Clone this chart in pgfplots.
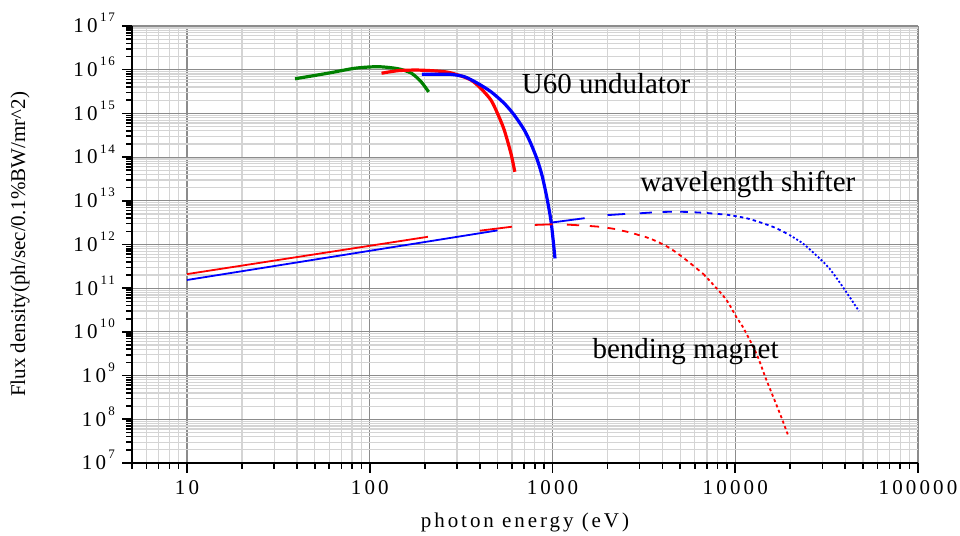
\documentclass[border=0pt]{standalone}
\usepackage{fontspec}
\setmainfont{Liberation Serif}
\newfontfamily\spc[LetterSpace=15]{Liberation Serif}
\newfontfamily\spcx[LetterSpace=14]{Liberation Serif}
\usepackage{pgfplots}
\pgfplotsset{compat=1.18}

\newcommand{\ylab}[1]{10\kern1.2pt\raisebox{0.52em}[0pt][0pt]{\fontsize{6.5}{7}\selectfont #1}}

\begin{document}
\begin{tikzpicture}
\begin{axis}[
  scale only axis, width=393pt, height=218.5pt,
  xmode=log, ymode=log,
  xmin=5, xmax=100000, ymin=1e7, ymax=1e17,
  axis x line=bottom, axis y line=left,
  axis line style={-, line width=0.9pt},
  tick align=outside,
  major tick length=5pt, minor tick length=3pt,
  every tick/.style={black, line width=0.8pt},
  xtick={10,100,1000,10000,100000},
  xticklabels={10,100,1000,10000,100000},
  minor xtick={5,6,7,8,9,20,30,40,50,60,70,80,90,200,300,400,500,600,700,800,900,
    2000,3000,4000,5000,6000,7000,8000,9000,20000,30000,40000,50000,60000,70000,80000,90000},
  ytick={1e7,1e8,1e9,1e10,1e11,1e12,1e13,1e14,1e15,1e16,1e17},
  yticklabels={\ylab{7},\ylab{8},\ylab{9},\ylab{10},\ylab{11},\ylab{12},\ylab{13},\ylab{14},\ylab{15},\ylab{16},\ylab{17}},
  minor ytick={2e7,3e7,4e7,5e7,6e7,7e7,8e7,9e7,
    2e8,3e8,4e8,5e8,6e8,7e8,8e8,9e8,
    2e9,3e9,4e9,5e9,6e9,7e9,8e9,9e9,
    2e10,3e10,4e10,5e10,6e10,7e10,8e10,9e10,
    2e11,3e11,4e11,5e11,6e11,7e11,8e11,9e11,
    2e12,3e12,4e12,5e12,6e12,7e12,8e12,9e12,
    2e13,3e13,4e13,5e13,6e13,7e13,8e13,9e13,
    2e14,3e14,4e14,5e14,6e14,7e14,8e14,9e14,
    2e15,3e15,4e15,5e15,6e15,7e15,8e15,9e15,
    2e16,3e16,4e16,5e16,6e16,7e16,8e16,9e16},
  ticklabel style={font=\spc\fontsize{10.5}{12}\selectfont},
  grid=both,
  major grid style={black!45, line width=0.55pt},
  minor grid style={black!17, line width=0.6pt},
  unbounded coords=jump,
]
% undulator harmonics
\addplot[green!50!black, line width=1.6pt, smooth, tension=0.45] coordinates {
 (39,6.2e15) (59,8.3e15) (83,1.08e16) (111,1.17e16) (143,1.05e16)
 (169,8.3e15) (191,5.3e15) (210,3.1e15)};
\addplot[red, line width=1.6pt, smooth, tension=0.45] coordinates {
 (116,8.3e15) (143,9.5e15) (184,9.8e15) (257,9.0e15) (303,7.6e15) (358,5.8e15)
 (405,3.75e15) (460,2.03e15) (500,1.0e15) (544,4.2e14) (592,1.22e14) (622,4.6e13)};
\addplot[blue, line width=1.6pt, smooth, tension=0.45] coordinates {
 (193,7.85e15) (240,7.9e15) (279,7.8e15) (330,6.9e15) (389,4.9e15) (460,3.14e15)
 (544,1.7e15) (617,9.2e14) (700,4.2e14) (760,2.07e14) (826,8.6e13) (880,3.56e13)
 (937,1.04e13) (985,3.05e12) (1032,4.8e11)};

% bending magnet
\addplot[red, line width=0.9pt] coordinates {
 (10,2.1e11) (208,1.5e12) (300,nan)
 (400,2.07e12) (600,2.55e12) (700,nan)
 (800,2.8e12) (1000,2.9e12) (1100,nan)
 (1200,2.85e12) (1400,2.75e12) (1500,nan)
 (1600,2.65e12) (1800,2.55e12) (1900,nan)
 (2000,2.4e12) (2200,2.26e12) (2300,nan)
 (2400,2.07e12) (2600,1.93e12) (2700,nan)
 (2800,1.77e12) (3000,1.62e12)};
\addplot[red, line width=0.9pt, smooth, dash pattern=on 2pt off 1.8pt] coordinates {
 (3200,1.5e12) (3600,1.25e12) (4400,8.2e11) (5400,4.4e11) (6700,2.1e11)};
\addplot[red, line width=0.9pt, smooth, dash pattern=on 1.5pt off 1.4pt] coordinates {
 (6700,2.1e11) (7900,1.0e11) (9000,5.2e10) (10200,2.1e10) (11000,1.3e10)
 (13050,3.2e9) (14800,8e8) (17500,1.4e8) (19500,4.2e7)};

% wavelength shifter
\addplot[blue, line width=0.9pt] coordinates {
 (10,1.54e11) (500,2.1e12) (700,nan)
 (1000,3.2e12) (1500,4.0e12) (1700,nan)
 (2000,4.7e12) (2500,5.0e12) (2700,nan)
 (3000,5.18e12) (3500,5.4e12) (3700,nan)
 (4000,5.55e12) (4500,5.62e12) (4700,nan)
 (5000,5.6e12) (5500,5.56e12) (5700,nan)
 (6000,5.45e12) (6500,5.35e12) (6700,nan)
 (7000,5.25e12) (7500,5.12e12) (7700,nan)
 (8000,5.0e12) (8500,4.9e12)};
\addplot[blue, line width=0.9pt, smooth, dash pattern=on 1.7pt off 1.6pt] coordinates {
 (9000,4.8e12) (11500,4.0e12) (14200,3.05e12) (16800,2.35e12) (19800,1.65e12)};
\addplot[blue, line width=0.9pt, smooth, dash pattern=on 1pt off 1pt] coordinates {
 (19800,1.65e12) (23400,1.06e12) (27700,5.7e11) (32700,2.85e11) (38700,1.08e11) (47500,3.0e10)};

\node[anchor=base west, inner sep=0, font=\fontsize{14.5}{16}\selectfont] at (axis cs:676,2.88e15) {U60 undulator};
\node[anchor=base west, inner sep=0, font=\fontsize{14.5}{16}\selectfont] at (axis cs:3006,1.67e13) {wavelength shifter};
\node[anchor=base west, inner sep=0, font=\fontsize{14.5}{16}\selectfont] at (axis cs:1648,2.49e9) {bending magnet};

\coordinate (ll) at (rel axis cs:0,0);
\coordinate (ur) at (rel axis cs:1,1);
\coordinate (ml) at (rel axis cs:0,0.5);
\coordinate (bm) at (rel axis cs:0.5,0);
\end{axis}
\node[rotate=90, font=\fontsize{10.5}{12}\selectfont] at ([xshift=-56pt]ml) {Flux density(ph/sec/0.1\%BW/mr\textasciicircum 2)};
\node[font=\spcx\fontsize{10.5}{12}\selectfont] at ([yshift=-29.5pt]bm) {photon energy (eV)};
\pgfresetboundingbox
\path ([shift={(-66pt,-36.5pt)}]ll) rectangle ([shift={(21pt,13pt)}]ur);
\end{tikzpicture}
\end{document}
